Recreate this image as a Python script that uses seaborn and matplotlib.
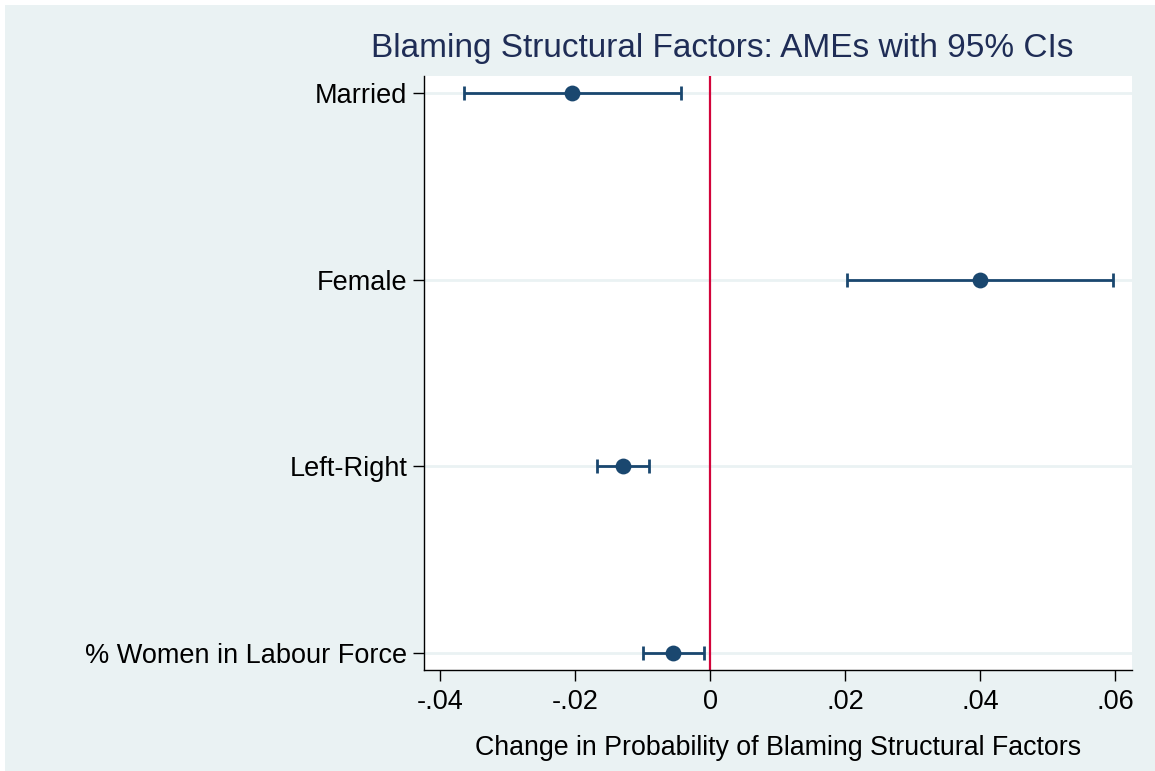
import matplotlib
matplotlib.use("Agg")
import matplotlib.pyplot as plt
import seaborn as sns
import pandas as pd
from matplotlib.patches import Rectangle

# Données (AMEs et IC 95%)
variables = ["Married", "Female", "Left-Right", "% Women in Labour Force"]
ame = [-0.0204, 0.0400, -0.0129, -0.0055]
ci_low = [-0.0364, 0.0203, -0.0167, -0.0100]
ci_high = [-0.0043, 0.0597, -0.0091, -0.0009]
xticks = [-0.04, -0.02, 0, 0.02, 0.04, 0.06]
xtick_labels = ["-.04", "-.02", "0", ".02", ".04", ".06"]

df = pd.DataFrame({"variable": variables, "ame": ame, "lo": ci_low, "hi": ci_high})
df["pos"] = range(len(df))

sns.set_style("white")
plt.rcParams["font.family"] = ["Liberation Sans", "DejaVu Sans"]

navy = "#1A476F"
bg = "#EAF2F3"

fig = plt.figure(figsize=(11.55, 7.71), dpi=100, facecolor="white")
fig.patches.append(Rectangle((5 / 1155, 0), 1, 1 - 5 / 771, transform=fig.transFigure,
                             facecolor=bg, edgecolor="none", zorder=-10))
ax = fig.add_axes([424 / 1155, 1 - 670 / 771, (1132 - 424) / 1155, (670 - 76) / 771])
ax.set_facecolor("white")

# Lignes de grille horizontales
for p in df["pos"]:
    ax.axhline(p, color=bg, lw=2, zorder=0)

# Ligne de référence à zéro
ax.axvline(0, color="#D2043A", lw=1.6, zorder=1)

# Intervalles de confiance
ax.errorbar(df["ame"], df["pos"],
            xerr=[df["ame"] - df["lo"], df["hi"] - df["ame"]],
            fmt="none", ecolor=navy, elinewidth=2, capsize=5, capthick=2, zorder=2)

# Estimations ponctuelles
sns.scatterplot(data=df, x="ame", y="pos", color=navy, s=130, edgecolor=navy,
                linewidth=0, zorder=3, ax=ax, legend=False)

ax.set_xlim(-0.0424, 0.0625)
ax.set_ylim(3.09, -0.09)
ax.set_yticks(df["pos"])
ax.set_yticklabels(variables)
ax.set_xticks(xticks)
ax.set_xticklabels(xtick_labels)
ax.tick_params(axis="both", which="major", labelsize=19.5, length=8, width=1,
               color="black", labelcolor="black", direction="out",
               left=True, bottom=True, pad=4)
ax.tick_params(axis="x", pad=6)
for side in ["top", "right"]:
    ax.spines[side].set_visible(False)
for side in ["left", "bottom"]:
    ax.spines[side].set_color("black")
    ax.spines[side].set_linewidth(1)

ax.set_xlabel("Change in Probability of Blaming Structural Factors", fontsize=19.3,
              color="black", labelpad=14)
ax.set_ylabel("")
fig.text(722 / 1155, 1 - 48 / 771, "Blaming Structural Factors: AMEs with 95% CIs",
         ha="center", va="center", fontsize=24, color="#1F2D56")

fig.savefig("out.png", dpi=100, facecolor=fig.get_facecolor())
